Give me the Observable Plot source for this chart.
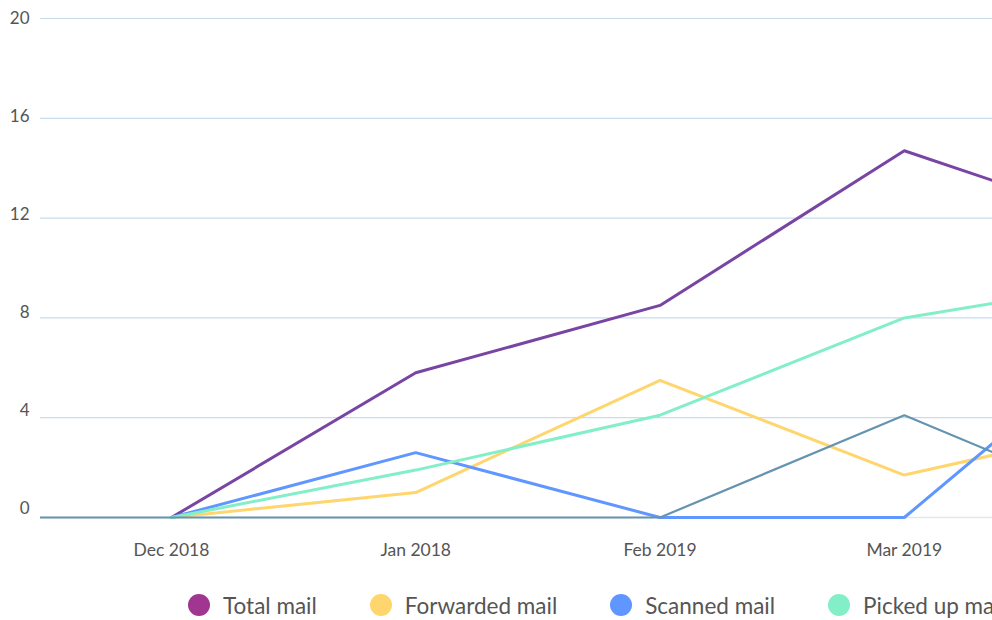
<!DOCTYPE html>
<html>
<head>
<meta charset="utf-8">
<script src="https://cdn.jsdelivr.net/npm/d3@7"></script>
<script src="https://cdn.jsdelivr.net/npm/@observablehq/plot@0.6"></script>
<style>
  html, body { margin: 0; padding: 0; background: #fff; overflow: hidden; }
  body { width: 992px; height: 620px; font-family: Lato, "Open Sans", sans-serif; }
  #chart { height: 575px; }
  #legend { display: flex; align-items: center; height: 60px; padding-left: 188px; white-space: nowrap; font-size: 22.5px; color: #555; }
  .item { display: flex; align-items: center; margin-right: 53px; flex: none; }
  .dot { width: 22px; height: 22px; border-radius: 50%; margin-right: 13px; }
</style>
</head>
<body>
<div id="chart"></div>
<div id="legend"></div>
<script>
const months = ["Nov 2018", "Dec 2018", "Jan 2018", "Feb 2019", "Mar 2019", "Apr 2019"];
const totalMail = [null, 0, 5.8, 8.5, 14.7, 11.4];
const forwardedMail = [null, 0, 1.0, 5.5, 1.7, 3.9];
const scannedMail = [null, 0, 2.6, 0, 0, 8.2];
const pickedUpMail = [null, 0, 1.9, 4.1, 8.0, 9.6];
const otherMail = [0, 0, 0, 0, 4.1, 0];
const seriesNames = ["Total mail", "Forwarded mail", "Scanned mail", "Picked up mail", "Other mail"];
const seriesValues = [totalMail, forwardedMail, scannedMail, pickedUpMail, otherMail];
const lineColors = ["#7845a3", "#ffd66e", "#5f96ff", "#82efc8", "#6494b0"];
const legendColors = ["#a03592", "#ffd66e", "#5f96ff", "#82efc8", "#6494b0"];
const lineWidths = [3, 3, 3, 3, 2.2];
const yTicks = [0, 4, 8, 12, 16, 20];
const xTicks = [1, 2, 3, 4];

const rows = seriesNames.flatMap((name, s) =>
  seriesValues[s].map((v, i) => ({series: name, idx: i, value: v, s})).filter(r => r.value != null));

const marks = [
  Plot.ruleY(yTicks.filter(d => d > 0), {stroke: "#c8dceb", strokeWidth: 1.2}),
  Plot.ruleY([0], {stroke: "#e6e6e6", strokeWidth: 1.5}),
  ...yTicks.map(t => Plot.axisY({ticks: [t], tickSize: 0, tickPadding: 11, dy: -8.5 + t * 0.45, fontSize: 17, fill: "#555", label: null})),
  Plot.axisX({ticks: xTicks, tickSize: 0, tickPadding: 18, fontSize: 17.5, fill: "#555", tickFormat: i => months[i], label: null})
];
seriesNames.forEach((name, s) => {
  marks.push(Plot.line(rows.filter(r => r.s === s), {
    x: "idx", y: "value", stroke: lineColors[s], strokeWidth: lineWidths[s], clip: true, strokeLinejoin: "miter"
  }));
});

const plot = Plot.plot({
  width: 992,
  height: 575,
  marginLeft: 40,
  marginRight: 0,
  marginTop: 10,
  marginBottom: 50,
  style: {fontFamily: "Lato, 'Open Sans', sans-serif", background: "#fff", overflow: "visible"},
  x: {type: "linear", domain: [0.464, 4.361]},
  y: {domain: [0, 20], range: [517, 18]},
  marks
});
document.getElementById("chart").append(plot);

const legend = document.getElementById("legend");
seriesNames.forEach((name, s) => {
  const item = document.createElement("div");
  item.className = "item";
  const dot = document.createElement("span");
  dot.className = "dot";
  dot.style.background = legendColors[s];
  const label = document.createElement("span");
  label.textContent = name;
  item.append(dot, label);
  legend.append(item);
});
</script>
</body>
</html>
